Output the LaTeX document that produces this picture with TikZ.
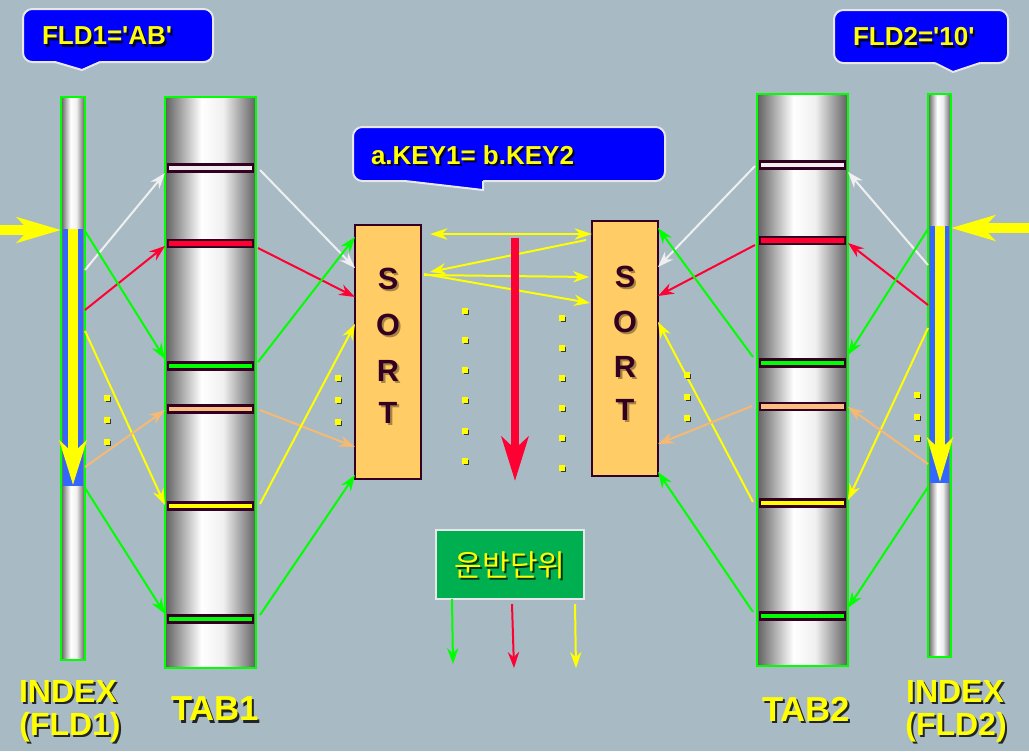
\documentclass[tikz,border=0pt]{standalone}
\usepackage{fontspec}
\setmainfont{Liberation Sans}
\newfontfamily\krfont{Noto Sans CJK KR}
\usetikzlibrary{arrows.meta,fit,calc,shadows}
\definecolor{bg}{RGB}{168,187,196}
\definecolor{cblue}{RGB}{0,0,255}
\definecolor{cbw}{RGB}{232,232,236}
\definecolor{cyel}{RGB}{255,255,0}
\definecolor{cgrn}{RGB}{0,255,0}
\definecolor{cred}{RGB}{255,0,51}
\definecolor{cwht}{RGB}{240,240,240}
\definecolor{corg}{RGB}{245,185,115}
\definecolor{cbar}{RGB}{51,0,34}
\definecolor{csort}{RGB}{255,204,102}
\definecolor{cidx}{RGB}{51,102,255}
\definecolor{cunit}{RGB}{0,176,80}
\definecolor{cdk}{RGB}{96,96,96}
\definecolor{cbarw}{RGB}{242,236,240}
\definecolor{cbaro}{RGB}{250,190,130}
\pgfdeclarehorizontalshading{cyl}{100bp}{color(0bp)=(cdk); color(25bp)=(cdk); color(45bp)=(white); color(57bp)=(white!94!black); color(75bp)=(cdk); color(100bp)=(cdk)}
\newcommand\q{\textquotesingle}
\newcommand\shtext[5]{% #1 style, #2 shadow opacity, #3 position, #4 name, #5 text
  \node[#1, text=black, opacity=#2] at ([shift={(1.6pt,-1.6pt)}]#3) {#5};
  \node[#1] (#4) at (#3) {#5};}
\begin{document}
\begin{tikzpicture}[x=0.75pt,y=-0.75pt,
  every node/.style={inner sep=0pt, outer sep=0pt},
  col/.style={draw=cgrn, line width=1.6pt, shade, shading=cyl},
  bar/.style={draw=cbar, line width=1.6pt},
  sortbox/.style={draw=cbar, line width=1.5pt, fill=csort},
  callout/.style={fill=cblue, draw=cbw, line width=1.5pt, rounded corners=7pt},
  con/.style={line width=1.5pt, -{Stealth[length=12pt,width=8.5pt,inset=4pt]}},
  con2/.style={line width=1.5pt, {Stealth[length=13pt,width=8.5pt,inset=4pt]}-{Stealth[length=13pt,width=8.5pt,inset=4pt]}},
  ctxt/.style={font=\fontsize{19.5}{20}\selectfont\bfseries, text=cyel, anchor=west},
  lbl/.style={font=\fontsize{24}{26}\selectfont\bfseries, text=cyel},
  tlbl/.style={font=\fontsize{26}{28}\selectfont\bfseries, text=cyel},
  sortl/.style={font=\fontsize{23}{24}\selectfont\bfseries, text=cbar},
  krt/.style={font=\krfont\fontsize{22.5}{23}\selectfont, text=cyel},
  dotm/.style={fill=cyel, minimum size=4pt, drop shadow={shadow xshift=1pt, shadow yshift=-1pt, opacity=0.7, fill=black}},
  bigarrow/.style={line width=7pt, -{Stealth[length=33pt,width=19pt,inset=9pt]}},
]
\fill[bg] (0,0) rectangle (1029,751);
\useasboundingbox (0,0) rectangle (1029,751);

% ---------- callouts ----------
\node[callout, fit={(23,9)(213,62)}] (c1) {};
\fill[cblue] (55,59) -- (55,62) -- (82,70) -- (100,62) -- (100,59) -- cycle;
\draw[cbw, line width=1.5pt] (55,62) -- (82,70) -- (100,62);
\shtext{ctxt}{0.8}{42,36}{t1}{FLD1=\q AB\q}

\node[callout, fit={(834,10)(1008,63)}] (c2) {};
\fill[cblue] (935,60) -- (935,63) -- (953,72) -- (980,63) -- (980,60) -- cycle;
\draw[cbw, line width=1.5pt] (935,63) -- (953,72) -- (980,63);
\shtext{ctxt}{0.8}{853,37}{t2}{FLD2=\q 10\q}

\node[callout, fit={(353,127)(665,181)}] (c3) {};
\fill[cblue] (405,178) -- (405,181) -- (483,190) -- (483,178) -- cycle;
\draw[cbw, line width=1.5pt] (405,181) -- (483,190) -- (483,181);
\shtext{ctxt}{0.8}{371,155}{t3}{a.KEY1= b.KEY2}

% ---------- index 1 ----------
\node[col, fit={(61,97)(85,660)}] (idx1) {};
\fill[cidx] (63,229) rectangle (83,486);
\coordinate (i1a) at (73,229);
\coordinate (i1b) at (73,485);
\draw[cyel, line width=7.5pt, -{Stealth[length=33pt,width=20pt,inset=9pt]}] (i1a) -- (i1b);
\coordinate (inL) at (0,230);
\draw[cyel, bigarrow] (inL) -- (idx1.west |- inL);

% ---------- index 2 ----------
\node[col, fit={(928,94)(951,657)}] (idx2) {};
\fill[cidx] (930,226) rectangle (949,483);
\coordinate (i2a) at (940,226);
\coordinate (i2b) at (940,482);
\draw[cyel, line width=7pt, -{Stealth[length=33pt,width=19pt,inset=9pt]}] (i2a) -- (i2b);
\coordinate (inR) at (1029,228);
\draw[cyel, bigarrow] (inR) -- (idx2.east |- inR);

% ---------- TAB1 ----------
\node[col, fit={(165,97)(256,668)}] (tab1) {};
\node[bar, fill=cbarw, fit={(168,164.5)(253,171.5)}] (a1) {};
\node[bar, fill=cred,  fit={(168,240)(253,247)}] (a2) {};
\node[bar, fill=cgrn,  fit={(168,362.5)(253,369.5)}] (a3) {};
\node[bar, fill=cbaro, fit={(168,405.5)(253,412.5)}] (a4) {};
\node[bar, fill=cyel,  fit={(168,502.5)(253,509.5)}] (a5) {};
\node[bar, fill=cgrn,  fit={(168,615.5)(253,622.5)}] (a6) {};

% ---------- TAB2 ----------
\node[col, fit={(757,94)(848,666)}] (tab2) {};
\node[bar, fill=cbarw, fit={(760,161.5)(845,168.5)}] (b1) {};
\node[bar, fill=cred,  fit={(760,237)(845,244)}] (b2) {};
\node[bar, fill=cgrn,  fit={(760,359.5)(845,366.5)}] (b3) {};
\node[bar, fill=cbaro, fit={(760,403)(845,410)}] (b4) {};
\node[bar, fill=cyel,  fit={(760,499.5)(845,506.5)}] (b5) {};
\node[bar, fill=cgrn,  fit={(760,612.5)(845,619.5)}] (b6) {};

% ---------- SORT boxes ----------
\node[sortbox, fit={(355,225)(421,479)}] (s1) {};
\node[sortbox, fit={(592,221)(658,476)}] (s2) {};
\shtext{sortl}{0.35}{388,279}{s1S}{S}
\shtext{sortl}{0.35}{388,325}{s1O}{O}
\shtext{sortl}{0.35}{388,371}{s1R}{R}
\shtext{sortl}{0.35}{388,413}{s1T}{T}
\shtext{sortl}{0.35}{625,277}{s2S}{S}
\shtext{sortl}{0.35}{625,322}{s2O}{O}
\shtext{sortl}{0.35}{625,367}{s2R}{R}
\shtext{sortl}{0.35}{625,410}{s2T}{T}

% ---------- connectors: INDEX1 -> TAB1 ----------
\draw[con, cwht] (idx1.east |- 0,270) -- (tab1.west |- 0,173);
\draw[con, cred] (idx1.east |- 0,310) -- (tab1.west |- 0,246);
\draw[con, cgrn] (idx1.east |- 0,231) -- (tab1.west |- 0,359);
\draw[con, cyel] (idx1.east |- 0,331) -- (tab1.west |- 0,505);
\draw[con, corg] (idx1.east |- 0,467) -- (tab1.west |- 0,410);
\draw[con, cgrn] (idx1.east |- 0,488) -- (tab1.west |- 0,614);

% ---------- TAB1 -> SORT1 ----------
\draw[con, cwht] ($(tab1.east |- 0,170)+(4,0)$) -- (s1.west |- 0,268);
\draw[con, cred] ($(tab1.east |- 0,248)+(2,0)$) -- (s1.west |- 0,297);
\draw[con, cgrn] ($(tab1.east |- 0,362)+(2,0)$) -- (s1.west |- 0,237);
\draw[con, corg] ($(tab1.east |- 0,410)+(4,0)$) -- (s1.west |- 0,447);
\draw[con, cyel] ($(tab1.east |- 0,504)+(4,0)$) -- (s1.west |- 0,324);
\draw[con, cgrn] ($(tab1.east |- 0,615)+(4,0)$) -- (s1.west |- 0,475);

% ---------- TAB2 -> SORT2 ----------
\draw[con, cwht] ($(tab2.west |- 0,166)+(-2,0)$) -- (s2.east |- 0,267);
\draw[con, cred] ($(tab2.west |- 0,245)+(-2,0)$) -- (s2.east |- 0,296);
\draw[con, cgrn] ($(tab2.west |- 0,357)+(-4,0)$) -- (s2.east |- 0,228);
\draw[con, cyel] ($(tab2.west |- 0,502)+(-4,0)$) -- (s2.east |- 0,322);
\draw[con, corg] ($(tab2.west |- 0,406)+(-5,0)$) -- (s2.east |- 0,444);
\draw[con, cgrn] ($(tab2.west |- 0,612)+(-4,0)$) -- (s2.east |- 0,472);

% ---------- INDEX2 -> TAB2 ----------
\draw[con, cwht] (idx2.west |- 0,265) -- (tab2.east |- 0,172);
\draw[con, cred] (idx2.west |- 0,305) -- (tab2.east |- 0,243);
\draw[con, cgrn] (idx2.west |- 0,229) -- (tab2.east |- 0,355);
\draw[con, cyel] (idx2.west |- 0,328) -- (tab2.east |- 0,500);
\draw[con, corg] (idx2.west |- 0,464) -- (tab2.east |- 0,407);
\draw[con, cgrn] (idx2.west |- 0,487) -- (tab2.east |- 0,608);

% ---------- between SORT boxes ----------
\draw[con2, cyel] ($(s1.east |- 0,234)+(9,0)$) -- (s2.west |- 0,234);
\draw[con, cyel] ($(s2.west |- 0,240)+(-6,0)$) -- ($(s1.east |- 0,272)+(9,0)$);
\draw[con, cyel] ($(s1.east |- 0,275)+(3,0)$) -- ($(s2.west |- 0,277)+(-3,0)$);
\draw[con, cyel] ($(s1.east |- 0,274)+(3,0)$) -- ($(s2.west |- 0,303)+(-2,0)$);

\coordinate (rtop) at (515,238);
\coordinate (rbot) at (515,481);
\draw[cred, line width=6pt, -{Stealth[length=33pt,width=20pt,inset=9pt]}] (rtop) -- (rbot);

% ---------- dots ----------
\foreach \y [count=\i] in {398,420,442} \node[dotm] (dA\i) at (107,\y) {};
\foreach \y [count=\i] in {378,400,422} \node[dotm] (dB\i) at (338,\y) {};
\foreach \y [count=\i] in {311,340,370,400,431,461} \node[dotm] (dC\i) at (465,\y) {};
\foreach \y [count=\i] in {318,348,378,408,438,468} \node[dotm] (dD\i) at (562,\y) {};
\foreach \y [count=\i] in {375,397,418} \node[dotm] (dE\i) at (687,\y) {};
\foreach \y [count=\i] in {395,417,438} \node[dotm] (dF\i) at (917,\y) {};

% ---------- unit box ----------
\node[fill=cunit, draw=cbw, line width=2.2pt, fit={(436,530)(584,599)}] (unit) {};
\shtext{krt}{0.7}{510,565}{ut}{운반단위}
\coordinate (ug) at (453,664);
\coordinate (ur) at (514,668);
\coordinate (uy) at (576,668);
\draw[con, cgrn] (unit.south -| 452,0) -- (ug);
\draw[con, cred] ($(unit.south -| 512,0)+(0,5)$) -- (ur);
\draw[con, cyel] ($(unit.south -| 575,0)+(0,5)$) -- (uy);

% ---------- labels ----------
\shtext{lbl}{0.8}{68,691}{l1}{INDEX}
\shtext{lbl}{0.8}{70,727}{l2}{(FLD1)}
\shtext{tlbl}{0.8}{215,709}{l3}{TAB1}
\shtext{tlbl}{0.8}{806,709}{l4}{TAB2}
\shtext{lbl}{0.8}{955,691}{l5}{INDEX}
\shtext{lbl}{0.8}{956,727}{l6}{(FLD2)}
\end{tikzpicture}
\end{document}
